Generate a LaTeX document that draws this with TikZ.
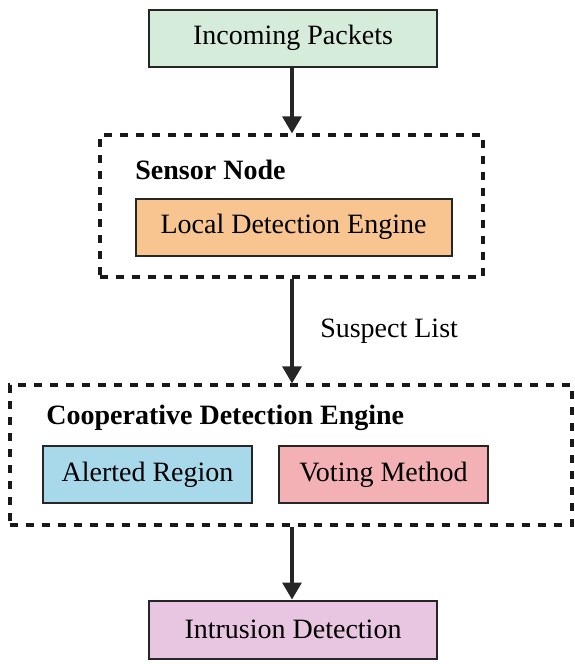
\documentclass[tikz,border=0pt]{standalone}
\usepackage{fontspec}
\setmainfont{Liberation Serif}
\usetikzlibrary{arrows.meta}
\definecolor{pktgreen}{HTML}{D6ECDA}
\definecolor{engorange}{HTML}{F8C48F}
\definecolor{regblue}{HTML}{A7D9EA}
\definecolor{votepink}{HTML}{F3B1B5}
\definecolor{detpurple}{HTML}{E8C6E1}
\tikzset{>={Triangle[length=8.5pt,width=9.5pt]}}
\tikzset{
  box/.style={draw=black!85,line width=1pt,minimum height=28.5pt,inner sep=0pt,
    font=\fontsize{14}{16}\selectfont},
  group/.style={draw=black!90,line width=1.6pt,dash pattern=on 4pt off 4pt,inner sep=0pt},
  title/.style={anchor=west,inner sep=0pt,font=\fontsize{14}{16}\selectfont\bfseries},
  flow/.style={->,line width=1.6pt,black!85}
}

\begin{document}
\begin{tikzpicture}[x=0.5pt,y=-0.5pt]
                \useasboundingbox (0,0) rectangle (574,664);
                \node[box,fill=pktgreen,minimum width=144pt] (packets) at (293,38) {Incoming Packets};
                \node[group,minimum width=191.5pt,minimum height=71pt] (sensor) at (291.5,206) {};
                \node[title] (sensortitle) at (135,170) {Sensor Node};
                \node[box,fill=engorange,minimum width=158pt] (local) at (293.5,227) {Local Detection Engine};
                \node[group,minimum width=281pt,minimum height=70pt] (coop) at (291,455) {};
                \node[title] (cooptitle) at (46,418) {Cooperative Detection Engine};
                \node[box,fill=regblue,minimum width=104.5pt] (region) at (147.5,474.5) {Alerted Region};
                \node[box,fill=votepink,minimum width=104.5pt] (voting) at (383.5,474.5) {Voting Method};
                \node[box,fill=detpurple,minimum width=144pt,minimum height=29pt] (intrusion) at (293,629.5) {Intrusion Detection};
                \draw[flow] (packets.south -| 292,0) -- (sensor.north -| 292,0);
                \draw[flow] (sensor.south -| 292,0) -- node[right=10pt,text=black,font=\fontsize{14}{16}\selectfont] (suspect) {Suspect List} (coop.north -| 292,0);
                \draw[flow] (coop.south -| 292,0) -- (intrusion.north -| 292,0);
            \end{tikzpicture}
\end{document}
